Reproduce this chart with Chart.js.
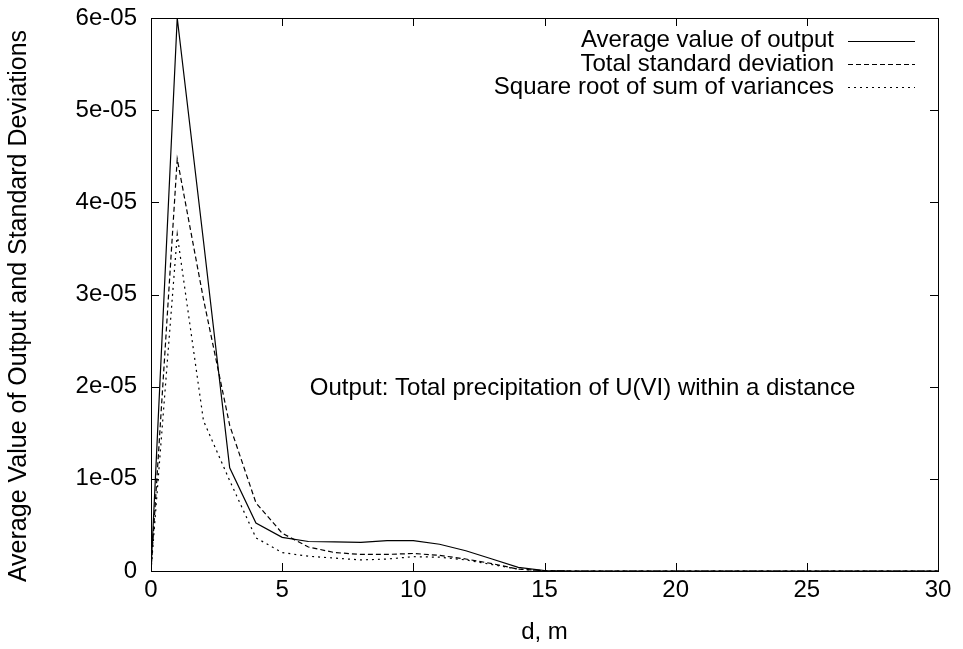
<!DOCTYPE html>
<html lang="en">
<head>
<meta charset="UTF-8">
<title>Average Value of Output and Standard Deviations</title>
<script src="https://cdn.jsdelivr.net/npm/chart.js"></script>
<style>
  body { margin: 0; background: #fff; }
  #wrap { width: 963px; height: 649px; }
</style>
</head>
<body>
<div id="wrap"><canvas id="chart" width="963" height="649"></canvas></div>

<script>
// distance d, m
const distances = [0, 1, 2, 3, 4, 5, 6, 7, 8, 9, 10, 11, 12, 13, 14, 15,
  16, 17, 18, 19, 20, 21, 22, 23, 24, 25, 26, 27, 28, 29, 30];

const averageOutput = [0, 6.0e-5, 3.58e-5, 1.12e-5, 5.2e-6, 3.65e-6, 3.2e-6, 3.15e-6, 3.1e-6, 3.3e-6, 3.3e-6, 2.9e-6, 2.2e-6, 1.3e-6, 0.4e-6, 0.05e-6,
  0, 0, 0, 0, 0, 0, 0, 0, 0, 0, 0, 0, 0, 0, 0];
const totalStdDev = [0, 4.47e-5, 2.95e-5, 1.58e-5, 7.4e-6, 4.1e-6, 2.6e-6, 2.0e-6, 1.8e-6, 1.8e-6, 1.9e-6, 1.7e-6, 1.3e-6, 0.8e-6, 0.2e-6, 0.03e-6,
  0, 0, 0, 0, 0, 0, 0, 0, 0, 0, 0, 0, 0, 0, 0];
const rootSumVariances = [0, 3.65e-5, 1.63e-5, 9.8e-6, 3.6e-6, 2.0e-6, 1.6e-6, 1.4e-6, 1.2e-6, 1.3e-6, 1.55e-6, 1.5e-6, 1.2e-6, 0.7e-6, 0.2e-6, 0.03e-6,
  0, 0, 0, 0, 0, 0, 0, 0, 0, 0, 0, 0, 0, 0, 0];

const seriesNames = ['Average value of output', 'Total standard deviation', 'Square root of sum of variances'];

const xTicks = [0, 5, 10, 15, 20, 25, 30];
const yTicks = [0, 1e-5, 2e-5, 3e-5, 4e-5, 5e-5, 6e-5];
const yTickLabels = ['0', '1e-05', '2e-05', '3e-05', '4e-05', '5e-05', '6e-05'];

const yTitle = 'Average Value of Output and Standard Deviations';
const note = 'Output: Total precipitation of U(VI) within a distance';
const noteAt = { x: 6.05, y: 1.98e-5 };

const FONT = 'Liberation Sans, Arial, Helvetica, sans-serif';

function toPoints(values) {
  return distances.map((d, i) => ({ x: d, y: values[i] }));
}

// gnuplot-like frame, inward ticks, key, y title and label
const gnuplotDecor = {
  id: 'gnuplotDecor',
  afterDraw(chart) {
    const c = chart.ctx;
    const a = chart.chartArea;
    const xs = chart.scales.x, ys = chart.scales.y;
    const tl = 8;
    c.save();
    c.strokeStyle = '#000';
    c.lineWidth = 1;
    c.setLineDash([]);
    c.strokeRect(a.left + 0.5, a.top + 0.5, a.right - a.left, a.bottom - a.top);
    c.beginPath();
    xTicks.forEach(v => {
      const px = Math.round(xs.getPixelForValue(v)) + 0.5;
      c.moveTo(px, a.bottom); c.lineTo(px, a.bottom - tl);
      c.moveTo(px, a.top); c.lineTo(px, a.top + tl);
    });
    yTicks.forEach(v => {
      const py = Math.round(ys.getPixelForValue(v)) + 0.5;
      c.moveTo(a.left, py); c.lineTo(a.left + tl, py);
      c.moveTo(a.right, py); c.lineTo(a.right - tl, py);
    });
    c.stroke();

    // key, top right
    c.font = '24px ' + FONT;
    c.fillStyle = '#000';
    c.textBaseline = 'middle';
    c.textAlign = 'right';
    const rowY = [40.5, 64, 87];
    chart.data.datasets.forEach((ds, i) => {
      const y = rowY[i];
      c.fillText(ds.label, 834, y);
      c.beginPath();
      c.lineWidth = ds.borderWidth;
      c.setLineDash(ds.borderDash || []);
      c.moveTo(848, Math.round(y) + 0.5);
      c.lineTo(915, Math.round(y) + 0.5);
      c.stroke();
    });
    c.setLineDash([]);

    // label inside the plot
    c.textAlign = 'left';
    c.fillText(note, xs.getPixelForValue(noteAt.x), ys.getPixelForValue(noteAt.y));

    // y axis title
    c.save();
    c.translate(19, 306);
    c.rotate(-Math.PI / 2);
    c.textAlign = 'center';
    c.font = '25px ' + FONT;
    c.fillText(yTitle, 0, 0);
    c.restore();
    c.restore();
  }
};

const ctx = document.getElementById('chart').getContext('2d');
const chart = new Chart(ctx, {
  type: 'line',
  data: {
    datasets: [
      { label: seriesNames[0], data: toPoints(averageOutput), borderColor: '#000', borderWidth: 1.2, borderDash: [] },
      { label: seriesNames[1], data: toPoints(totalStdDev), borderColor: '#000', borderWidth: 1.2, borderDash: [5, 3] },
      { label: seriesNames[2], data: toPoints(rootSumVariances), borderColor: '#000', borderWidth: 1.2, borderDash: [2, 4] }
    ]
  },
  options: {
    responsive: false,
    animation: false,
    layout: { padding: { left: 0, right: 25, top: 18, bottom: 0 } },
    elements: { point: { radius: 0 }, line: { tension: 0, fill: false } },
    plugins: { legend: { display: false }, tooltip: { enabled: false } },
    scales: {
      x: {
        type: 'linear',
        min: 0, max: 30,
        afterBuildTicks: s => { s.ticks = xTicks.map(v => ({ value: v })); },
        afterFit: s => { s.height = 78; s.paddingLeft = 0; s.paddingRight = 0; },
        grid: { display: false, drawTicks: false },
        border: { display: false },
        ticks: { color: '#000', font: { family: FONT, size: 24 }, padding: 5, maxRotation: 0, autoSkip: false },
        title: { display: true, text: 'd, m', color: '#000', font: { family: FONT, size: 24 }, padding: { top: 0, bottom: 2 } }
      },
      y: {
        type: 'linear',
        min: 0, max: 6e-5,
        afterBuildTicks: s => { s.ticks = yTicks.map(v => ({ value: v })); },
        afterFit: s => { s.width = 151; s.paddingTop = 0; s.paddingBottom = 0; },
        grid: { display: false, drawTicks: false },
        border: { display: false },
        ticks: {
          color: '#000', font: { family: FONT, size: 24 }, padding: 14, autoSkip: false,
          callback: (v) => yTickLabels[yTicks.indexOf(v)] ?? ''
        },
        title: { display: false }
      }
    }
  },
  plugins: [gnuplotDecor]
});
</script>
</body>
</html>
